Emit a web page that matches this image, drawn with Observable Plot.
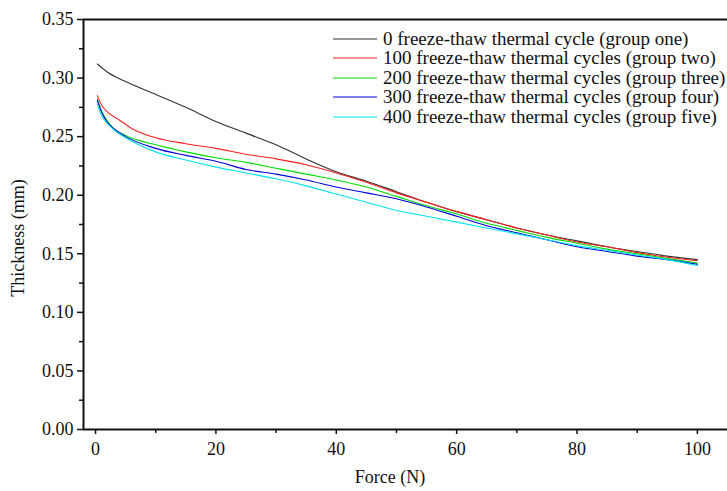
<!DOCTYPE html>
<html>
<head>
<meta charset="utf-8">
<script src="https://cdn.jsdelivr.net/npm/d3@7"></script>
<script src="https://cdn.jsdelivr.net/npm/@observablehq/plot@0.6"></script>
<style>
  body { margin: 0; background: #fff; }
  #wrap { position: relative; width: 727px; height: 491px; font-family: "Liberation Serif", "Times New Roman", serif; }
  #legend { position: absolute; left: 333px; top: 29px; font-size: 19px; color: #111; }
  .row { display: flex; align-items: center; height: 19.5px; white-space: nowrap; }
  .row svg { margin-right: 6px; }
  #xlabel { position: absolute; left: 0; width: 780px; text-align: center; top: 467px; font-size: 18px; color: #111; }
  #ylabel { position: absolute; left: 18px; top: 238px; transform: translate(-50%, -50%) rotate(-90deg); font-size: 18px; color: #111; white-space: nowrap; }
</style>
</head>
<body>
<div id="wrap"></div>
<script>
const seriesNames = [
  "0 freeze-thaw thermal cycle (group one)",
  "100 freeze-thaw thermal cycles (group two)",
  "200 freeze-thaw thermal cycles (group three)",
  "300 freeze-thaw thermal cycles (group four)",
  "400 freeze-thaw thermal cycles (group five)"
];
const seriesColors = ["#333333", "#ff2020", "#00dd00", "#0000dd", "#00e5ee"];

const forceG1 = [0.3, 2, 5, 10, 15, 20, 25, 30, 35, 40, 45, 50, 55, 60, 65, 70, 75, 80, 85, 90, 95, 100];
const thickG1 = [0.312, 0.305, 0.297, 0.286, 0.275, 0.263, 0.253, 0.243, 0.231, 0.220, 0.212, 0.203, 0.194, 0.186, 0.179, 0.172, 0.166, 0.161, 0.156, 0.152, 0.148, 0.145];

const forceG2 = [0.3, 1, 2, 4, 6, 10, 15, 20, 25, 30, 35, 40, 45, 50, 55, 60, 65, 70, 75, 80, 85, 90, 95, 100];
const thickG2 = [0.285, 0.277, 0.271, 0.264, 0.257, 0.249, 0.244, 0.240, 0.235, 0.231, 0.226, 0.219, 0.211, 0.202, 0.194, 0.186, 0.179, 0.172, 0.166, 0.160, 0.156, 0.151, 0.147, 0.144];

const forceG3 = [0.3, 1, 2, 3, 5, 10, 15, 20, 25, 30, 35, 40, 45, 50, 55, 60, 65, 70, 75, 80, 85, 90, 95, 100];
const thickG3 = [0.282, 0.272, 0.263, 0.257, 0.251, 0.243, 0.237, 0.232, 0.228, 0.223, 0.218, 0.213, 0.207, 0.199, 0.191, 0.184, 0.176, 0.170, 0.164, 0.159, 0.154, 0.150, 0.146, 0.142];

const forceG4 = [0.3, 1, 2, 3, 5, 10, 15, 20, 25, 30, 35, 40, 45, 50, 55, 60, 65, 70, 75, 80, 85, 90, 95, 100];
const thickG4 = [0.281, 0.271, 0.262, 0.257, 0.250, 0.240, 0.234, 0.229, 0.222, 0.218, 0.213, 0.207, 0.202, 0.197, 0.190, 0.182, 0.174, 0.168, 0.162, 0.156, 0.152, 0.148, 0.145, 0.141];

const forceG5 = [0.3, 1, 2, 3, 5, 10, 15, 20, 25, 30, 35, 40, 45, 50, 55, 60, 65, 70, 75, 80, 85, 90, 95, 100];
const thickG5 = [0.278, 0.268, 0.261, 0.256, 0.249, 0.237, 0.230, 0.224, 0.219, 0.214, 0.208, 0.201, 0.194, 0.187, 0.182, 0.177, 0.172, 0.167, 0.162, 0.157, 0.153, 0.149, 0.145, 0.140];

const xTicks = [0, 20, 40, 60, 80, 100];
const xMinorTicks = [10, 30, 50, 70, 90];
const yTicks = [0, 0.05, 0.10, 0.15, 0.20, 0.25, 0.30, 0.35];
const yMinorTicks = [0.025, 0.075, 0.125, 0.175, 0.225, 0.275, 0.325];
const xDomain = [-2, 105];
const yDomain = [0, 0.35];

const forces = [forceG1, forceG2, forceG3, forceG4, forceG5];
const thicks = [thickG1, thickG2, thickG3, thickG4, thickG5];
const data = [];
forces.forEach((fs, i) => fs.forEach((f, j) => data.push({series: seriesNames[i], force: f, thickness: thicks[i][j]})));

const chart = Plot.plot({
  width: 727,
  height: 491,
  marginLeft: 83,
  marginRight: 0,
  marginTop: 19,
  marginBottom: 62,
  style: {fontFamily: "'Liberation Serif', 'Times New Roman', serif", fontSize: "18px", color: "#111", background: "transparent"},
  x: {domain: xDomain},
  y: {domain: yDomain},
  color: {domain: seriesNames, range: seriesColors},
  marks: [
    Plot.axisX({ticks: xTicks, tickSize: 5, tickPadding: 8, tickFormat: d3.format("d"), label: null, strokeWidth: 1.5, fontSize: 18}),
    Plot.axisX({ticks: xMinorTicks, tickSize: 4, text: null, label: null, strokeWidth: 1.5}),
    Plot.axisY({ticks: yTicks, tickSize: 6, tickPadding: 4, tickFormat: d3.format(".2f"), label: null, strokeWidth: 1.5, fontSize: 18}),
    Plot.axisY({ticks: yMinorTicks, tickSize: 4, text: null, label: null, strokeWidth: 1.5}),
    Plot.line(data, {x: "force", y: "thickness", z: "series", stroke: "series", strokeWidth: 1.1, curve: "monotone-x"}),
    Plot.ruleX([xDomain[0]], {stroke: "#111", strokeWidth: 2}),
    Plot.ruleY([yDomain[0], yDomain[1]], {stroke: "#111", strokeWidth: 2})
  ]
});

const wrap = document.getElementById("wrap");
wrap.appendChild(chart);

const legend = document.createElement("div");
legend.id = "legend";
seriesNames.forEach((name, i) => {
  const row = document.createElement("div");
  row.className = "row";
  row.innerHTML = `<svg width="44" height="4"><line x1="0" x2="44" y1="2" y2="2" stroke="${seriesColors[i]}" stroke-width="1.2"/></svg><span>${name}</span>`;
  legend.appendChild(row);
});
wrap.appendChild(legend);

const xl = document.createElement("div");
xl.id = "xlabel";
xl.textContent = "Force (N)";
wrap.appendChild(xl);

const yl = document.createElement("div");
yl.id = "ylabel";
yl.textContent = "Thickness (mm)";
wrap.appendChild(yl);
</script>
</body>
</html>
